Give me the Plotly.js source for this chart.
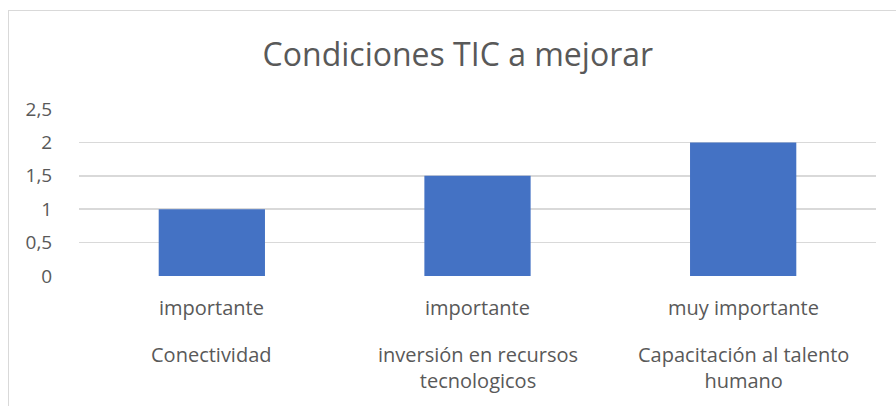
<!DOCTYPE html>
<html><head><meta charset="utf-8">
<script src="https://cdn.plot.ly/plotly-3.0.1.min.js"></script>
<style>html,body{margin:0;padding:0;background:#fff;}#wrap{position:relative;width:896px;height:406px;}
#chart{width:896px;height:406px;}
#frame{position:absolute;left:8px;top:10px;width:900px;height:410px;border-top:1.5px solid #d9d9d9;border-left:1.5px solid #d9d9d9;pointer-events:none;}</style>
</head><body>
<div id="wrap"><div id="chart"></div><div id="frame"></div></div>
<script>
const categories = ["Conectividad", "inversión en recursos<br>tecnologicos", "Capacitación al talento<br>humano"];
const groupLabels = ["importante", "importante", "muy importante"];
const values = [1, 1.5, 2];
const yTicks = [0, 0.5, 1, 1.5, 2, 2.5];
const title = "Condiciones TIC a mejorar";

const font = "Open Sans, sans-serif";
const grey = "#595959";

const annotations = [];
categories.forEach((c, i) => {
  annotations.push({x: c, xref: "x", y: 0, yref: "paper", yanchor: "middle", yshift: -31,
    text: groupLabels[i], showarrow: false, font: {family: font, size: 20, color: grey}});
  annotations.push({x: c, xref: "x", y: 0, yref: "paper", yanchor: "top", yshift: -63,
    text: categories[i], showarrow: false, font: {family: font, size: 20, color: grey}});
});

Plotly.newPlot("chart", [{
  type: "bar", x: categories, y: values, marker: {color: "#4472C4"}, width: 0.4, hoverinfo: "none"
}], {
  width: 896, height: 406,
  margin: {l: 79, r: 20, t: 109, b: 130},
  paper_bgcolor: "#fff", plot_bgcolor: "#fff",
  separators: ",.",
  title: {text: title, x: 0.511, xanchor: "center", y: 0.865, yanchor: "middle",
    font: {family: font, size: 32, color: grey}},
  xaxis: {type: "category", showticklabels: false, showgrid: false, zeroline: false, showline: false, fixedrange: true},
  yaxis: {range: [0, 2.5], tickvals: yTicks, ticktext: yTicks.map(v => String(v).replace(".", ",")),
    showgrid: true, gridcolor: "#d9d9d9", gridwidth: 1.5, zeroline: false, showline: false,
    ticks: "outside", ticklen: 22, tickcolor: "rgba(0,0,0,0)",
    tickfont: {family: font, size: 19, color: grey}, fixedrange: true},
  annotations: annotations,
  showlegend: false
}, {displayModeBar: false, staticPlot: true});
</script>
</body></html>
